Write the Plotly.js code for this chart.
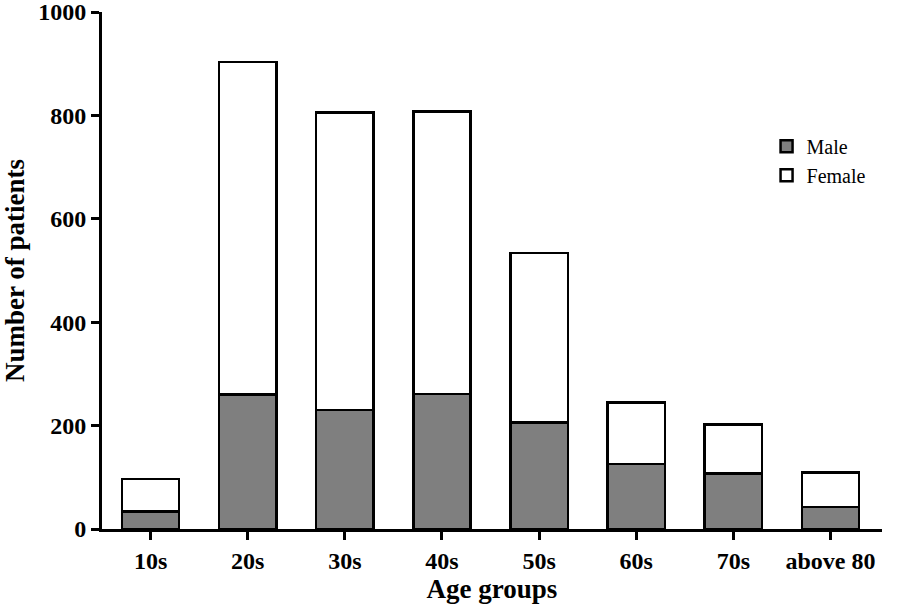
<!DOCTYPE html>
<html>
<head>
<meta charset="utf-8">
<script src="https://cdn.plot.ly/plotly-3.0.1.min.js"></script>
<style>html,body{margin:0;padding:0;background:#fff;}#chart{width:901px;height:607px;}</style>
</head>
<body>
<div id="chart"></div>
<script>
var categories = ["10s", "20s", "30s", "40s", "50s", "60s", "70s", "above 80"];
var maleValues = [34, 260, 230, 261, 206, 126, 107, 43];
var totalValues = [97, 903, 806, 808, 534, 245, 202, 109];
var femaleValues = totalValues.map(function (t, i) { return t - maleValues[i]; });
var yTickValues = [0, 200, 400, 600, 800, 1000];

var serif = "Liberation Serif, Times New Roman, serif";

var traces = [
  {
    type: "bar", name: "Male", x: categories, y: maleValues,
    marker: { color: "#7f7f7f", line: { color: "#000", width: 2.5 } }
  },
  {
    type: "bar", name: "Female", x: categories, y: femaleValues,
    marker: { color: "#ffffff", line: { color: "#000", width: 2.5 } }
  }
];

var layout = {
  width: 901, height: 607,
  margin: { l: 102, r: 19, t: 12, b: 78 },
  paper_bgcolor: "#fff", plot_bgcolor: "#fff",
  barmode: "stack",
  bargap: 0.41,
  showlegend: true,
  legend: {
    x: 0.852, y: 0.778, xanchor: "left", yanchor: "top",
    traceorder: "normal",
    font: { family: serif, size: 20, color: "#000" },
    bgcolor: "rgba(0,0,0,0)", itemwidth: 30
  },
  xaxis: {
    range: [-0.5, 7.53],
    showline: true, linecolor: "#000", linewidth: 3,
    ticks: "outside", ticklen: 8, tickwidth: 3, tickcolor: "#000",
    showgrid: false, zeroline: false,
    tickfont: { family: serif, size: 24, color: "#000", weight: "bold" },
    title: { text: "<b>Age groups</b>", font: { family: serif, size: 27, color: "#000" }, standoff: 1 },
    automargin: false
  },
  yaxis: {
    range: [0, 1000],
    tickvals: yTickValues,
    ticklabeloverflow: "allow",
    showline: true, linecolor: "#000", linewidth: 3,
    ticks: "outside", ticklen: 8, tickwidth: 3, tickcolor: "#000",
    showgrid: false, zeroline: false,
    tickfont: { family: serif, size: 24, color: "#000", weight: "bold" },
    title: { text: "<b>Number of patients</b>", font: { family: serif, size: 27, color: "#000" }, standoff: 21 },
    automargin: false
  }
};

Plotly.newPlot("chart", traces, layout, { displayModeBar: false, staticPlot: true });
</script>
</body>
</html>
